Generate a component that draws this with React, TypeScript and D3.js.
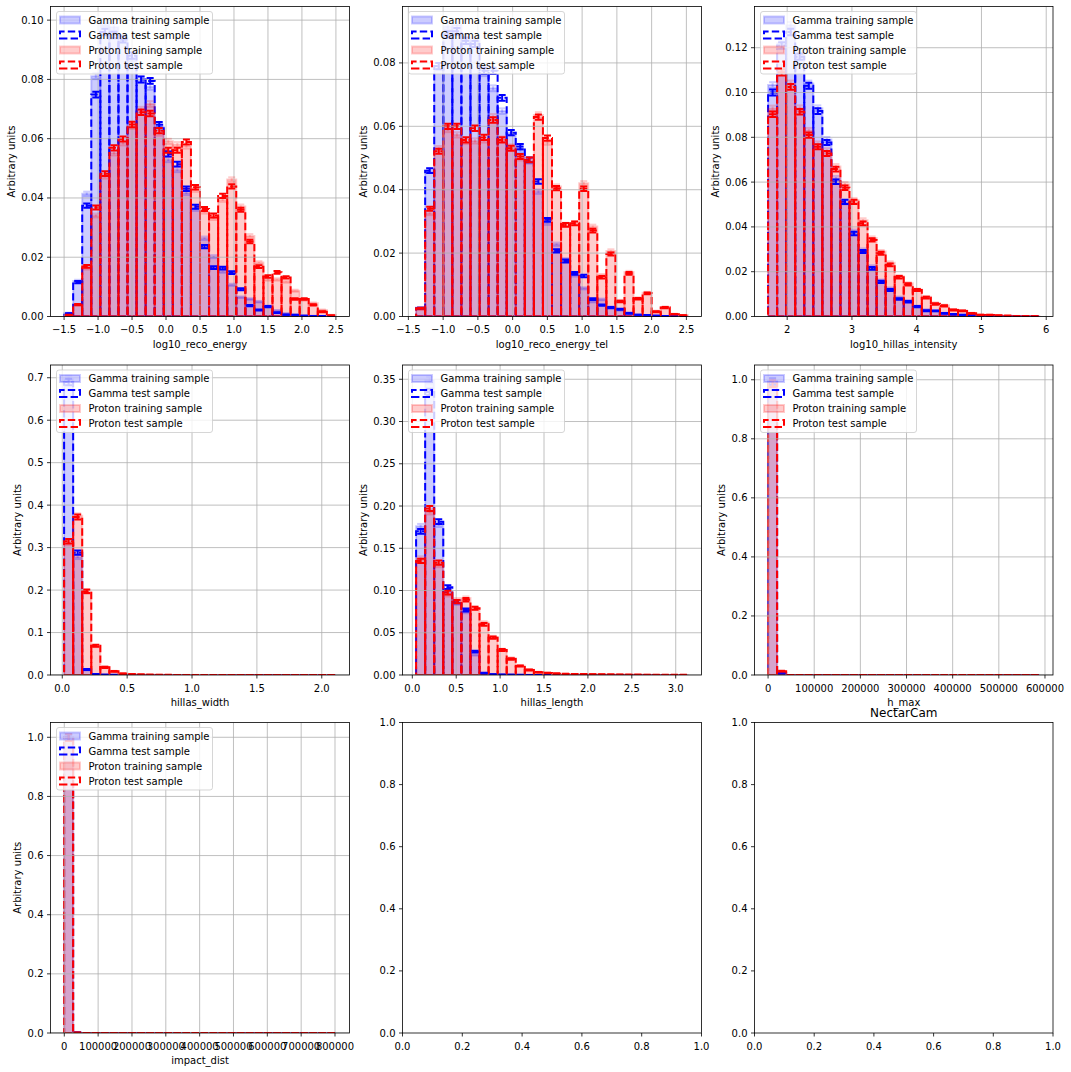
import React from 'react';
import * as d3 from 'd3';

const FONT = "'DejaVu Sans', sans-serif";
const BLUE = '#0000ff';
const RED = '#ff0000';
const GRID = '#b0b0b0';

// ---------- data (30 bins per panel) ----------
// Panel 1: log10_reco_energy
const recoEnergyGammaTrain = [0.0012, 0.0120, 0.0414, 0.0811, 0.0991, 0.0976, 0.0940, 0.0873, 0.0800, 0.0775, 0.0640, 0.0529, 0.0495, 0.0417, 0.0363, 0.0264, 0.0202, 0.0152, 0.0107, 0.0065, 0.0059, 0.0050, 0.0035, 0.0020, 0.0010, 0.0006, 0.0004, 0.0002, 0.0001, 0.0000];
const recoEnergyGammaTest = [0.0010, 0.0116, 0.0374, 0.0749, 0.0960, 0.0950, 0.0935, 0.0880, 0.0800, 0.0795, 0.0647, 0.0548, 0.0514, 0.0431, 0.0370, 0.0236, 0.0165, 0.0163, 0.0148, 0.0092, 0.0037, 0.0022, 0.0033, 0.0013, 0.0006, 0.0005, 0.0002, 0.0001, 0.0001, 0.0000];
const recoEnergyProtonTrain = [0.0004, 0.0040, 0.0163, 0.0341, 0.0473, 0.0552, 0.0586, 0.0642, 0.0698, 0.0717, 0.0619, 0.0591, 0.0580, 0.0575, 0.0428, 0.0354, 0.0332, 0.0394, 0.0462, 0.0371, 0.0272, 0.0182, 0.0125, 0.0125, 0.0118, 0.0087, 0.0056, 0.0045, 0.0022, 0.0005];
const recoEnergyProtonTest = [0.0005, 0.0040, 0.0169, 0.0368, 0.0482, 0.0569, 0.0599, 0.0648, 0.0689, 0.0685, 0.0627, 0.0561, 0.0561, 0.0589, 0.0436, 0.0363, 0.0341, 0.0407, 0.0439, 0.0360, 0.0253, 0.0168, 0.0135, 0.0149, 0.0132, 0.0059, 0.0059, 0.0039, 0.0016, 0.0003];

// Panel 2: log10_reco_energy_tel
const recoEnergyTelGammaTrain = [0.0028, 0.0460, 0.0790, 0.0915, 0.0920, 0.0880, 0.0870, 0.0768, 0.0720, 0.0648, 0.0580, 0.0525, 0.0490, 0.0394, 0.0295, 0.0228, 0.0180, 0.0130, 0.0089, 0.0047, 0.0054, 0.0030, 0.0020, 0.0012, 0.0006, 0.0004, 0.0002, 0.0001, 0.0001, 0.0000];
const recoEnergyTelGammaTest = [0.0026, 0.0460, 0.0790, 0.0890, 0.0900, 0.0870, 0.0860, 0.0775, 0.0775, 0.0690, 0.0580, 0.0536, 0.0494, 0.0426, 0.0305, 0.0207, 0.0175, 0.0136, 0.0128, 0.0055, 0.0036, 0.0028, 0.0023, 0.0010, 0.0005, 0.0004, 0.0002, 0.0001, 0.0001, 0.0000];
const recoEnergyTelProtonTrain = [0.0022, 0.0326, 0.0530, 0.0590, 0.0573, 0.0552, 0.0554, 0.0557, 0.0630, 0.0560, 0.0535, 0.0500, 0.0495, 0.0636, 0.0550, 0.0410, 0.0290, 0.0295, 0.0420, 0.0284, 0.0130, 0.0207, 0.0050, 0.0140, 0.0058, 0.0075, 0.0017, 0.0030, 0.0008, 0.0004];
const recoEnergyTelProtonTest = [0.0026, 0.0340, 0.0521, 0.0600, 0.0600, 0.0557, 0.0594, 0.0565, 0.0620, 0.0557, 0.0531, 0.0505, 0.0494, 0.0629, 0.0563, 0.0405, 0.0289, 0.0294, 0.0403, 0.0271, 0.0124, 0.0197, 0.0047, 0.0136, 0.0056, 0.0073, 0.0015, 0.0028, 0.0007, 0.0003];

// Panel 3: log10_hillas_intensity
const intensityGammaTrain = [0.1033, 0.1220, 0.1300, 0.1170, 0.1040, 0.0930, 0.0790, 0.0617, 0.0510, 0.0380, 0.0297, 0.0223, 0.0160, 0.0125, 0.0085, 0.0070, 0.0046, 0.0030, 0.0025, 0.0015, 0.0010, 0.0007, 0.0004, 0.0003, 0.0002, 0.0001, 0.0001, 0.0001, 0.0000, 0.0000];
const intensityGammaTest = [0.1000, 0.1210, 0.1270, 0.1160, 0.1030, 0.0917, 0.0777, 0.0602, 0.0512, 0.0371, 0.0290, 0.0215, 0.0155, 0.0118, 0.0078, 0.0066, 0.0044, 0.0026, 0.0025, 0.0014, 0.0010, 0.0007, 0.0005, 0.0003, 0.0002, 0.0001, 0.0001, 0.0001, 0.0000, 0.0000];
const intensityProtonTrain = [0.0929, 0.1110, 0.1040, 0.0930, 0.0830, 0.0770, 0.0740, 0.0670, 0.0590, 0.0520, 0.0430, 0.0350, 0.0290, 0.0240, 0.0180, 0.0148, 0.0120, 0.0088, 0.0060, 0.0050, 0.0031, 0.0027, 0.0015, 0.0008, 0.0007, 0.0004, 0.0003, 0.0002, 0.0001, 0.0001];
const intensityProtonTest = [0.0903, 0.1090, 0.1025, 0.0914, 0.0810, 0.0758, 0.0728, 0.0658, 0.0575, 0.0512, 0.0416, 0.0342, 0.0282, 0.0230, 0.0175, 0.0143, 0.0118, 0.0084, 0.0056, 0.0047, 0.0029, 0.0025, 0.0014, 0.0007, 0.0007, 0.0004, 0.0003, 0.0001, 0.0001, 0.0001];

// Panel 4: hillas_width
const widthGammaTrain = [0.697, 0.278, 0.012, 0.002, 0.0005, 0.0002, 0.0001, 0, 0, 0, 0, 0, 0, 0, 0, 0, 0, 0, 0, 0, 0, 0, 0, 0, 0, 0, 0, 0, 0, 0];
const widthGammaTest = [0.690, 0.288, 0.013, 0.002, 0.0005, 0.0002, 0.0001, 0, 0, 0, 0, 0, 0, 0, 0, 0, 0, 0, 0, 0, 0, 0, 0, 0, 0, 0, 0, 0, 0, 0];
const widthProtonTrain = [0.311, 0.375, 0.195, 0.068, 0.019, 0.0090, 0.0035, 0.0018, 0.0009, 0.0005, 0.0003, 0.0002, 0.0001, 0.0001, 0.0001, 0, 0, 0, 0, 0, 0, 0, 0, 0, 0, 0, 0, 0, 0, 0];
const widthProtonTest = [0.315, 0.372, 0.197, 0.069, 0.018, 0.0087, 0.0030, 0.0016, 0.0008, 0.0004, 0.0002, 0.0002, 0.0001, 0.0001, 0, 0, 0, 0, 0, 0, 0, 0, 0, 0, 0, 0, 0, 0, 0, 0];

// Panel 5: hillas_length
const lengthGammaTrain = [0.176, 0.349, 0.178, 0.100, 0.085, 0.075, 0.024, 0.003, 0.0008, 0.0004, 0.0002, 0.0001, 0.0001, 0, 0, 0, 0, 0, 0, 0, 0, 0, 0, 0, 0, 0, 0, 0, 0, 0];
const lengthGammaTest = [0.170, 0.335, 0.1815, 0.104, 0.0868, 0.077, 0.0276, 0.002, 0.0006, 0.0003, 0.0002, 0.0001, 0, 0, 0, 0, 0, 0, 0, 0, 0, 0, 0, 0, 0, 0, 0, 0, 0, 0];
const lengthProtonTrain = [0.138, 0.193, 0.130, 0.095, 0.089, 0.091, 0.079, 0.062, 0.045, 0.030, 0.020, 0.011, 0.0062, 0.0035, 0.0025, 0.0017, 0.0012, 0.0010, 0.0009, 0.0006, 0.0005, 0.0004, 0.0003, 0.0003, 0.0002, 0.0002, 0.0001, 0.0001, 0.0001, 0.0001];
const lengthProtonTest = [0.135, 0.197, 0.133, 0.0975, 0.0868, 0.089, 0.079, 0.060, 0.0442, 0.0296, 0.019, 0.0107, 0.0059, 0.0032, 0.0024, 0.0016, 0.0012, 0.0010, 0.0010, 0.0006, 0.0005, 0.0004, 0.0003, 0.0002, 0.0002, 0.0001, 0.0001, 0.0001, 0.0001, 0.0001];

// Panel 6: h_max
const hmaxGammaTrain = [0.995, 0.005, 0, 0, 0, 0, 0, 0, 0, 0, 0, 0, 0, 0, 0, 0, 0, 0, 0, 0, 0, 0, 0, 0, 0, 0, 0, 0, 0, 0];
const hmaxGammaTest = [0.994, 0.006, 0, 0, 0, 0, 0, 0, 0, 0, 0, 0, 0, 0, 0, 0, 0, 0, 0, 0, 0, 0, 0, 0, 0, 0, 0, 0, 0, 0];
const hmaxProtonTrain = [0.990, 0.010, 0, 0, 0, 0, 0, 0, 0, 0, 0, 0, 0, 0, 0, 0, 0, 0, 0, 0, 0, 0, 0, 0, 0, 0, 0, 0, 0, 0];
const hmaxProtonTest = [0.987, 0.013, 0, 0, 0, 0, 0, 0, 0, 0, 0, 0, 0, 0, 0, 0, 0, 0, 0, 0, 0, 0, 0, 0, 0, 0, 0, 0, 0, 0];

// Panel 7: impact_dist
const impactGammaTrain = [1.0, 0, 0, 0, 0, 0, 0, 0, 0, 0, 0, 0, 0, 0, 0, 0, 0, 0, 0, 0, 0, 0, 0, 0, 0, 0, 0, 0, 0, 0];
const impactGammaTest = [0.999, 0.001, 0, 0, 0, 0, 0, 0, 0, 0, 0, 0, 0, 0, 0, 0, 0, 0, 0, 0, 0, 0, 0, 0, 0, 0, 0, 0, 0, 0];
const impactProtonTrain = [1.0, 0, 0, 0, 0, 0, 0, 0, 0, 0, 0, 0, 0, 0, 0, 0, 0, 0, 0, 0, 0, 0, 0, 0, 0, 0, 0, 0, 0, 0];
const impactProtonTest = [0.999, 0.001, 0, 0, 0, 0, 0, 0, 0, 0, 0, 0, 0, 0, 0, 0, 0, 0, 0, 0, 0, 0, 0, 0, 0, 0, 0, 0, 0, 0];

// ---------- ticks ----------
const energyTicks = [-1.5, -1.0, -0.5, 0.0, 0.5, 1.0, 1.5, 2.0, 2.5];
const intensityTicks = [2, 3, 4, 5, 6];
const widthTicks = [0.0, 0.5, 1.0, 1.5, 2.0];
const lengthTicks = [0.0, 0.5, 1.0, 1.5, 2.0, 2.5, 3.0];
const hmaxTicks = [0, 100000, 200000, 300000, 400000, 500000, 600000];
const impactTicks = [0, 100000, 200000, 300000, 400000, 500000, 600000, 700000, 800000];
const unitTicks = [0.0, 0.2, 0.4, 0.6, 0.8, 1.0];
const yTicks1 = [0.0, 0.02, 0.04, 0.06, 0.08, 0.10];
const yTicks2 = [0.0, 0.02, 0.04, 0.06, 0.08];
const yTicks3 = [0.0, 0.02, 0.04, 0.06, 0.08, 0.10, 0.12];
const yTicks4 = [0.0, 0.1, 0.2, 0.3, 0.4, 0.5, 0.6, 0.7];
const yTicks5 = [0.0, 0.05, 0.10, 0.15, 0.20, 0.25, 0.30, 0.35];
const yTicksUnit = [0.0, 0.2, 0.4, 0.6, 0.8, 1.0];

const seriesLabels = ['Gamma training sample', 'Gamma test sample', 'Proton training sample', 'Proton test sample'];
const seriesColors = [BLUE, BLUE, RED, RED];
const seriesIsTest = [false, true, false, true];

type Panel = {
  xlabel: string; lo: number; hi: number; yMax: number;
  xTicks: number[]; xFmt: string; yTicks: number[]; yFmt: string;
  series: number[][];
};

const panels: Panel[] = [
  { xlabel: 'log10_reco_energy', lo: -1.5, hi: 2.5, yMax: 0.1046, xTicks: energyTicks, xFmt: '.1f', yTicks: yTicks1, yFmt: '.2f',
    series: [recoEnergyGammaTrain, recoEnergyGammaTest, recoEnergyProtonTrain, recoEnergyProtonTest] },
  { xlabel: 'log10_reco_energy_tel', lo: -1.389, hi: 2.522, yMax: 0.0978, xTicks: energyTicks, xFmt: '.1f', yTicks: yTicks2, yFmt: '.2f',
    series: [recoEnergyTelGammaTrain, recoEnergyTelGammaTest, recoEnergyTelProtonTrain, recoEnergyTelProtonTest] },
  { xlabel: 'log10_hillas_intensity', lo: 1.705, hi: 5.895, yMax: 0.1384, xTicks: intensityTicks, xFmt: 'd', yTicks: yTicks3, yFmt: '.2f',
    series: [intensityGammaTrain, intensityGammaTest, intensityProtonTrain, intensityProtonTest] },
  { xlabel: 'hillas_width', lo: 0.014, hi: 2.109, yMax: 0.730, xTicks: widthTicks, xFmt: '.1f', yTicks: yTicks4, yFmt: '.1f',
    series: [widthGammaTrain, widthGammaTest, widthProtonTrain, widthProtonTest] },
  { xlabel: 'hillas_length', lo: 0.043, hi: 3.139, yMax: 0.3669, xTicks: lengthTicks, xFmt: '.1f', yTicks: yTicks5, yFmt: '.2f',
    series: [lengthGammaTrain, lengthGammaTest, lengthProtonTrain, lengthProtonTest] },
  { xlabel: 'h_max', lo: 0, hi: 588000, yMax: 1.05, xTicks: hmaxTicks, xFmt: 'd', yTicks: yTicksUnit, yFmt: '.1f',
    series: [hmaxGammaTrain, hmaxGammaTest, hmaxProtonTrain, hmaxProtonTest] },
  { xlabel: 'impact_dist', lo: -600, hi: 802700, yMax: 1.05, xTicks: impactTicks, xFmt: 'd', yTicks: yTicksUnit, yFmt: '.1f',
    series: [impactGammaTrain, impactGammaTest, impactProtonTrain, impactProtonTest] },
];

// ---------- layout ----------
const COL_L = [50.5, 402.5, 754.5];
const COL_R = [349.5, 701.5, 1053];
const ROW_T = [6.5, 365, 722.5];
const ROW_B = [316.5, 675, 1033];
const DASH = '7.4,3.2';

const textWidth = (s: string) => {
  let w = 0;
  for (const c of s) {
    if (c === '.') w += 3.18;
    else if (c === '\u2212' || c === '-') w += 8.38;
    else w += 6.36;
  }
  return w;
};

function Axes({ col, row, xDomain, yDomain, xTicks, yTicks, xFmt, yFmt, grid, children, xlabel, ylabel, title }: any) {
  const L = COL_L[col], R = COL_R[col], T = ROW_T[row], B = ROW_B[row];
  const x = d3.scaleLinear().domain(xDomain).range([L, R]);
  const y = d3.scaleLinear().domain(yDomain).range([B, T]);
  const fx = d3.format(xFmt), fy = d3.format(yFmt);
  const yLabs = yTicks.map((t: number) => fy(t));
  const maxW = Math.max(...yLabs.map(textWidth));
  const clipId = `clip-${col}-${row}`;
  return (
    <g>
      <defs>
        <clipPath id={clipId}><rect x={L} y={T} width={R - L} height={B - T} /></clipPath>
      </defs>
      <g clipPath={`url(#${clipId})`}>{children && children.bars(x, y, B)}</g>
      {grid && (
        <g clipPath={`url(#${clipId})`}>
          {xTicks.map((t: number) => <line key={'gx' + t} x1={x(t)} x2={x(t)} y1={T} y2={B} stroke={GRID} strokeWidth={0.8} />)}
          {yTicks.map((t: number) => <line key={'gy' + t} x1={L} x2={R} y1={y(t)} y2={y(t)} stroke={GRID} strokeWidth={0.8} />)}
        </g>
      )}
      <g clipPath={`url(#${clipId})`}>{children && children.lines(x, y, B)}</g>
      <rect x={L} y={T} width={R - L} height={B - T} fill="none" stroke="#000" strokeWidth={0.8} />
      {xTicks.map((t: number) => (
        <g key={'tx' + t}>
          <line x1={x(t)} x2={x(t)} y1={B} y2={B + 3.5} stroke="#000" strokeWidth={0.8} />
          <text x={x(t)} y={B + 16.5} textAnchor="middle" fontSize={10} fontFamily={FONT} fill="#000">{fx(t)}</text>
        </g>
      ))}
      {yTicks.map((t: number, i: number) => (
        <g key={'ty' + t}>
          <line x1={L - 3.5} x2={L} y1={y(t)} y2={y(t)} stroke="#000" strokeWidth={0.8} />
          <text x={L - 7} y={y(t)} dy="0.35em" textAnchor="end" fontSize={10} fontFamily={FONT} fill="#000">{yLabs[i]}</text>
        </g>
      ))}
      {xlabel && <text x={(L + R) / 2} y={B + 31} textAnchor="middle" fontSize={10} fontFamily={FONT} fill="#000">{xlabel}</text>}
      {ylabel && (
        <text transform={`translate(${L - 7 - maxW - 4 - 5.8},${(T + B) / 2}) rotate(-90)`} textAnchor="middle" dominantBaseline="central"
          fontSize={10} fontFamily={FONT} fill="#000">{ylabel}</text>
      )}
      {title && <text x={(L + R) / 2} y={T - 6} textAnchor="middle" fontSize={12} fontFamily={FONT} fill="#000">{title}</text>}
      {children && children.legend && children.legend(L, T)}
    </g>
  );
}

function Legend({ L, T }: { L: number; T: number }) {
  const bx = L + 6, by = T + 5;
  return (
    <g>
      <rect x={bx} y={by} width={156} height={62.5} rx={2.5} fill="#fff" fillOpacity={0.8} stroke="#cccccc" strokeOpacity={0.8} strokeWidth={1} />
      {seriesLabels.map((lab, i) => {
        const cy = T + 13.5 + 15 * i;
        const hx = L + 9.5, hw = 20, hh = 7;
        const col = seriesColors[i];
        return (
          <g key={lab}>
            {seriesIsTest[i] ? (
              <path d={`M${hx},${cy + hh / 2}L${hx + hw},${cy + hh / 2}L${hx + hw},${cy - hh / 2}L${hx},${cy - hh / 2}Z`} fill="none" stroke={col} strokeWidth={2} strokeDasharray={DASH} />
            ) : (
              <rect x={hx} y={cy - hh / 2} width={hw} height={hh} fill={col} fillOpacity={0.2} stroke={col} strokeOpacity={0.2} strokeWidth={2} />
            )}
            <text x={L + 38} y={cy} dy="0.35em" fontSize={10} fontFamily={FONT} fill="#000">{lab}</text>
          </g>
        );
      })}
    </g>
  );
}

function HistPanel({ p, idx }: { p: Panel; idx: number }) {
  const col = idx % 3, row = Math.floor(idx / 3);
  const span = p.hi - p.lo;
  const n = p.series[0].length;
  const edges = d3.range(n + 1).map((i) => p.lo + (span * i) / n);
  const centers = d3.range(n).map((i) => (edges[i] + edges[i + 1]) / 2);
  const errOf = (v: number) => 0.011 * Math.sqrt(Math.max(v, 0) * p.yMax);

  const bars = (x: any, y: any, B: number) => (
    <g>
      {p.series.map((vals, s) => (
        <g key={'s' + s}>
          {vals.map((v, i) => {
            const x0 = x(edges[i]), x1 = x(edges[i + 1]), yt = y(v);
            const d = `M${x0},${B}L${x1},${B}L${x1},${yt}L${x0},${yt}Z`;
            return seriesIsTest[s] ? (
              <path key={i} d={d} fill="none" stroke={seriesColors[s]} strokeWidth={2} strokeDasharray={DASH} />
            ) : (
              <path key={i} d={d} fill={seriesColors[s]} fillOpacity={0.2} stroke={seriesColors[s]} strokeOpacity={0.2} strokeWidth={2} />
            );
          })}
        </g>
      ))}
    </g>
  );

  const lines = (x: any, y: any) => (
    <g>
      {p.series.map((vals, s) => (
        <g key={'e' + s} opacity={seriesIsTest[s] ? 1 : 0.2}>
          {vals.map((v, i) => {
            const cx = x(centers[i]);
            const e = errOf(v);
            const yt = y(v + e), yb = y(v - e);
            return (
              <g key={i}>
                <line x1={cx} x2={cx} y1={yb} y2={yt} stroke={seriesColors[s]} strokeWidth={2} />
                <line x1={cx - 3.5} x2={cx + 3.5} y1={yt} y2={yt} stroke={seriesColors[s]} strokeWidth={2} />
                <line x1={cx - 3.5} x2={cx + 3.5} y1={yb} y2={yb} stroke={seriesColors[s]} strokeWidth={2} />
              </g>
            );
          })}
        </g>
      ))}
    </g>
  );

  return (
    <Axes col={col} row={row}
      xDomain={[p.lo - 0.05 * span, p.hi + 0.05 * span]} yDomain={[0, p.yMax]}
      xTicks={p.xTicks} yTicks={p.yTicks} xFmt={p.xFmt} yFmt={p.yFmt} grid
      xlabel={p.xlabel} ylabel="Arbitrary units"
      children={{ bars, lines, legend: (L: number, T: number) => <Legend L={L} T={T} /> }} />
  );
}

export default function App() {
  return (
    <svg width={1071} height={1072} viewBox="0 0 1071 1072" style={{ position: 'absolute', left: 0, top: 0, background: '#fff' }}>
      <rect x={0} y={0} width={1071} height={1072} fill="#fff" />
      {panels.map((p, i) => <HistPanel key={p.xlabel} p={p} idx={i} />)}
      <Axes col={1} row={2} xDomain={[0, 1]} yDomain={[0, 1]} xTicks={unitTicks} yTicks={unitTicks} xFmt=".1f" yFmt=".1f" grid={false} />
      <Axes col={2} row={2} xDomain={[0, 1]} yDomain={[0, 1]} xTicks={unitTicks} yTicks={unitTicks} xFmt=".1f" yFmt=".1f" grid={false} title="NectarCam" />
    </svg>
  );
}
